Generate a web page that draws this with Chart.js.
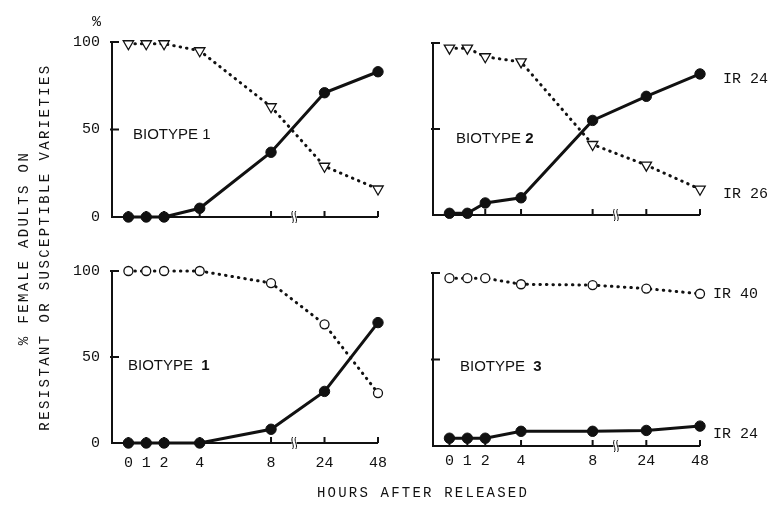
<!DOCTYPE html>
<html>
<head>
<meta charset="utf-8">
<script src="https://cdn.jsdelivr.net/npm/chart.js@4.4.1/dist/chart.umd.min.js"></script>
<style>
  html, body { margin: 0; padding: 0; background: #fff; }
  #wrap { position: relative; width: 769px; height: 512px; overflow: hidden; }
  #wrap canvas { position: absolute; left: 0; top: 0; }
  .txt { position: absolute; font-family: "Liberation Mono", monospace; color: #111; white-space: nowrap; }
  .rot { transform: translate(-50%, -50%) rotate(-90deg); letter-spacing: 2.4px; font-size: 14px; }
</style>
</head>
<body>
<div id="wrap">
  <canvas id="c1" width="769" height="512"></canvas>
  <canvas id="c2" width="769" height="512"></canvas>
  <canvas id="c3" width="769" height="512"></canvas>
  <canvas id="c4" width="769" height="512"></canvas>
  <div class="txt" style="left:92px; top:14px; font-size:15px;">%</div>
  <div class="txt rot" style="left:24px; top:248px;">% FEMALE ADULTS ON</div>
  <div class="txt rot" style="left:45px; top:247px;">RESISTANT OR SUSCEPTIBLE VARIETIES</div>
  <div class="txt" style="left:317px; top:485px; font-size:14px; letter-spacing:2.2px;">HOURS AFTER RELEASED</div>
</div>
<script>
// hours after release, and where each sits on the broken axis
const hourLabels = ['0', '1', '2', '4', '8', '24', '48'];
const hourPos = [0, 1, 2, 4, 8, 11, 14];
const breakAt = 9.3;

const yTicks = [0, 50, 100];
const yTickLabels = ['0', '50', '100'];

// Biotype 1 (top): IR 26 susceptible, IR 24 resistant
const bt1_ir26 = [99, 99, 99, 95, 63, 29, 16];
const bt1_ir24 = [0, 0, 0, 5, 37, 71, 83];
// Biotype 2 (top right)
const bt2_ir26 = [97, 97, 92, 89, 41, 29, 15];
const bt2_ir24 = [1, 1, 7, 10, 55, 69, 82];
// Biotype 1 (bottom left): IR 40 and IR 24
const bt1b_ir40 = [100, 100, 100, 100, 93, 69, 29];
const bt1b_ir24 = [0, 0, 0, 0, 8, 30, 70];
// Biotype 3 (bottom right)
const bt3_ir40 = [97, 97, 97, 93.5, 93, 91, 88];
const bt3_ir24 = [4.5, 4.5, 4.5, 8.5, 8.5, 9, 11.5];

const ink = '#111';

function pts(vals) {
  return vals.map((v, i) => ({ x: hourPos[i], y: v }));
}

const panelDeco = {
  id: 'panelDeco',
  beforeDatasetsDraw(chart, args, o) {
    const { ctx, chartArea: a, scales: { x, y } } = chart;
    const y0 = y.getPixelForValue(0);
    const y100 = y.getPixelForValue(100);
    const xEnd = x.getPixelForValue(hourPos[hourPos.length - 1]);
    ctx.save();
    ctx.strokeStyle = ink;
    ctx.lineWidth = 2;
    ctx.beginPath();
    ctx.moveTo(a.left, y100);
    ctx.lineTo(a.left, y0);
    ctx.lineTo(xEnd, y0);
    yTicks.slice(1).forEach(v => {
      const py = y.getPixelForValue(v);
      ctx.moveTo(a.left - 2, py);
      ctx.lineTo(a.left + 7, py);
    });
    hourPos.forEach(p => {
      const px = x.getPixelForValue(p);
      ctx.moveTo(px, y0);
      ctx.lineTo(px, y0 - 6);
    });
    ctx.stroke();

    // axis break
    const bx = x.getPixelForValue(breakAt);
    ctx.fillStyle = '#fff';
    ctx.fillRect(bx - 2.5, y0 - 2, 5, 4);
    ctx.lineWidth = 1;
    [-1.6, 1.6].forEach(dx => {
      ctx.beginPath();
      ctx.moveTo(bx + dx, y0 - 6);
      ctx.bezierCurveTo(bx + dx - 2.5, y0 - 2, bx + dx + 2.5, y0 + 2, bx + dx, y0 + 6);
      ctx.stroke();
    });

    ctx.fillStyle = ink;
    ctx.font = '15px "Liberation Mono", monospace';
    ctx.textBaseline = 'middle';
    if (o.yLabels) {
      ctx.textAlign = 'right';
      yTicks.forEach((v, i) => ctx.fillText(yTickLabels[i], a.left - 12, y.getPixelForValue(v)));
    }
    if (o.xLabels) {
      ctx.textAlign = 'center';
      hourPos.forEach((p, i) => ctx.fillText(hourLabels[i], x.getPixelForValue(p), y0 + o.xLabelGap));
    }
    if (o.irTop) {
      ctx.textAlign = 'left';
      ctx.fillText(o.irTop[0], xEnd + o.irDx, y.getPixelForValue(o.irTop[1]));
      ctx.fillText(o.irBottom[0], xEnd + o.irDx, y.getPixelForValue(o.irBottom[1]));
    }

    // biotype caption
    ctx.textAlign = 'left';
    ctx.font = '15px "Liberation Sans", sans-serif';
    const bxp = a.left + o.bioDx;
    const byp = y.getPixelForValue(o.bioY);
    const head = 'BIOTYPE' + o.bioGap;
    ctx.fillText(head, bxp, byp);
    const w = ctx.measureText(head).width;
    ctx.font = (o.bioBold ? 'bold ' : '') + '15px "Liberation Sans", sans-serif';
    ctx.fillText(o.bioNum, bxp + w, byp);
    ctx.restore();
  }
};

function lineSet(vals, kind) {
  const base = { data: pts(vals), clip: false, borderColor: ink, pointBorderColor: ink, tension: 0 };
  if (kind === 'filled') {
    return Object.assign(base, {
      borderWidth: 3, pointRadius: 5.2, pointBackgroundColor: ink, pointBorderWidth: 1
    });
  }
  return Object.assign(base, {
    borderWidth: 3, borderDash: [0.5, 6], borderCapStyle: 'round',
    pointStyle: kind === 'tri' ? 'triangle' : 'circle',
    pointRotation: kind === 'tri' ? 180 : 0,
    pointRadius: kind === 'tri' ? 6 : 4.5,
    pointBackgroundColor: '#fff', pointBorderWidth: 1.3
  });
}

function makePanel(id, area, sets, deco) {
  new Chart(document.getElementById(id), {
    type: 'line',
    data: { datasets: sets },
    options: {
      responsive: false,
      animation: false,
      events: [],
      layout: { padding: { left: area[0], top: area[1], right: 769 - area[2], bottom: 512 - area[3] } },
      scales: {
        x: { type: 'linear', display: false, min: -0.92, max: 14 },
        y: { display: false, min: 0, max: 100 }
      },
      plugins: { legend: { display: false }, tooltip: { enabled: false }, panelDeco: deco }
    },
    plugins: [panelDeco]
  });
}

makePanel('c1', [112, 42, 378, 217],
  [lineSet(bt1_ir26, 'tri'), lineSet(bt1_ir24, 'filled')],
  { yLabels: true, xLabels: false, bioNum: '1', bioGap: ' ', bioBold: false, bioDx: 21, bioY: 47 });

makePanel('c2', [433, 43, 700, 215],
  [lineSet(bt2_ir26, 'tri'), lineSet(bt2_ir24, 'filled')],
  { yLabels: false, xLabels: false, bioNum: '2', bioGap: ' ', bioBold: true, bioDx: 23, bioY: 44,
    irTop: ['IR 24', 79], irBottom: ['IR 26', 12], irDx: 23 });

makePanel('c3', [112, 271, 378, 443],
  [lineSet(bt1b_ir40, 'circ'), lineSet(bt1b_ir24, 'filled')],
  { yLabels: true, xLabels: true, xLabelGap: 20, bioNum: '1', bioGap: '  ', bioBold: true, bioDx: 16, bioY: 45 });

makePanel('c4', [433, 273, 700, 446],
  [lineSet(bt3_ir40, 'circ'), lineSet(bt3_ir24, 'filled')],
  { yLabels: false, xLabels: true, xLabelGap: 15, bioNum: '3', bioGap: '  ', bioBold: true, bioDx: 27, bioY: 45.5,
    irTop: ['IR 40', 88], irBottom: ['IR 24', 7], irDx: 13 });
</script>
</body>
</html>
